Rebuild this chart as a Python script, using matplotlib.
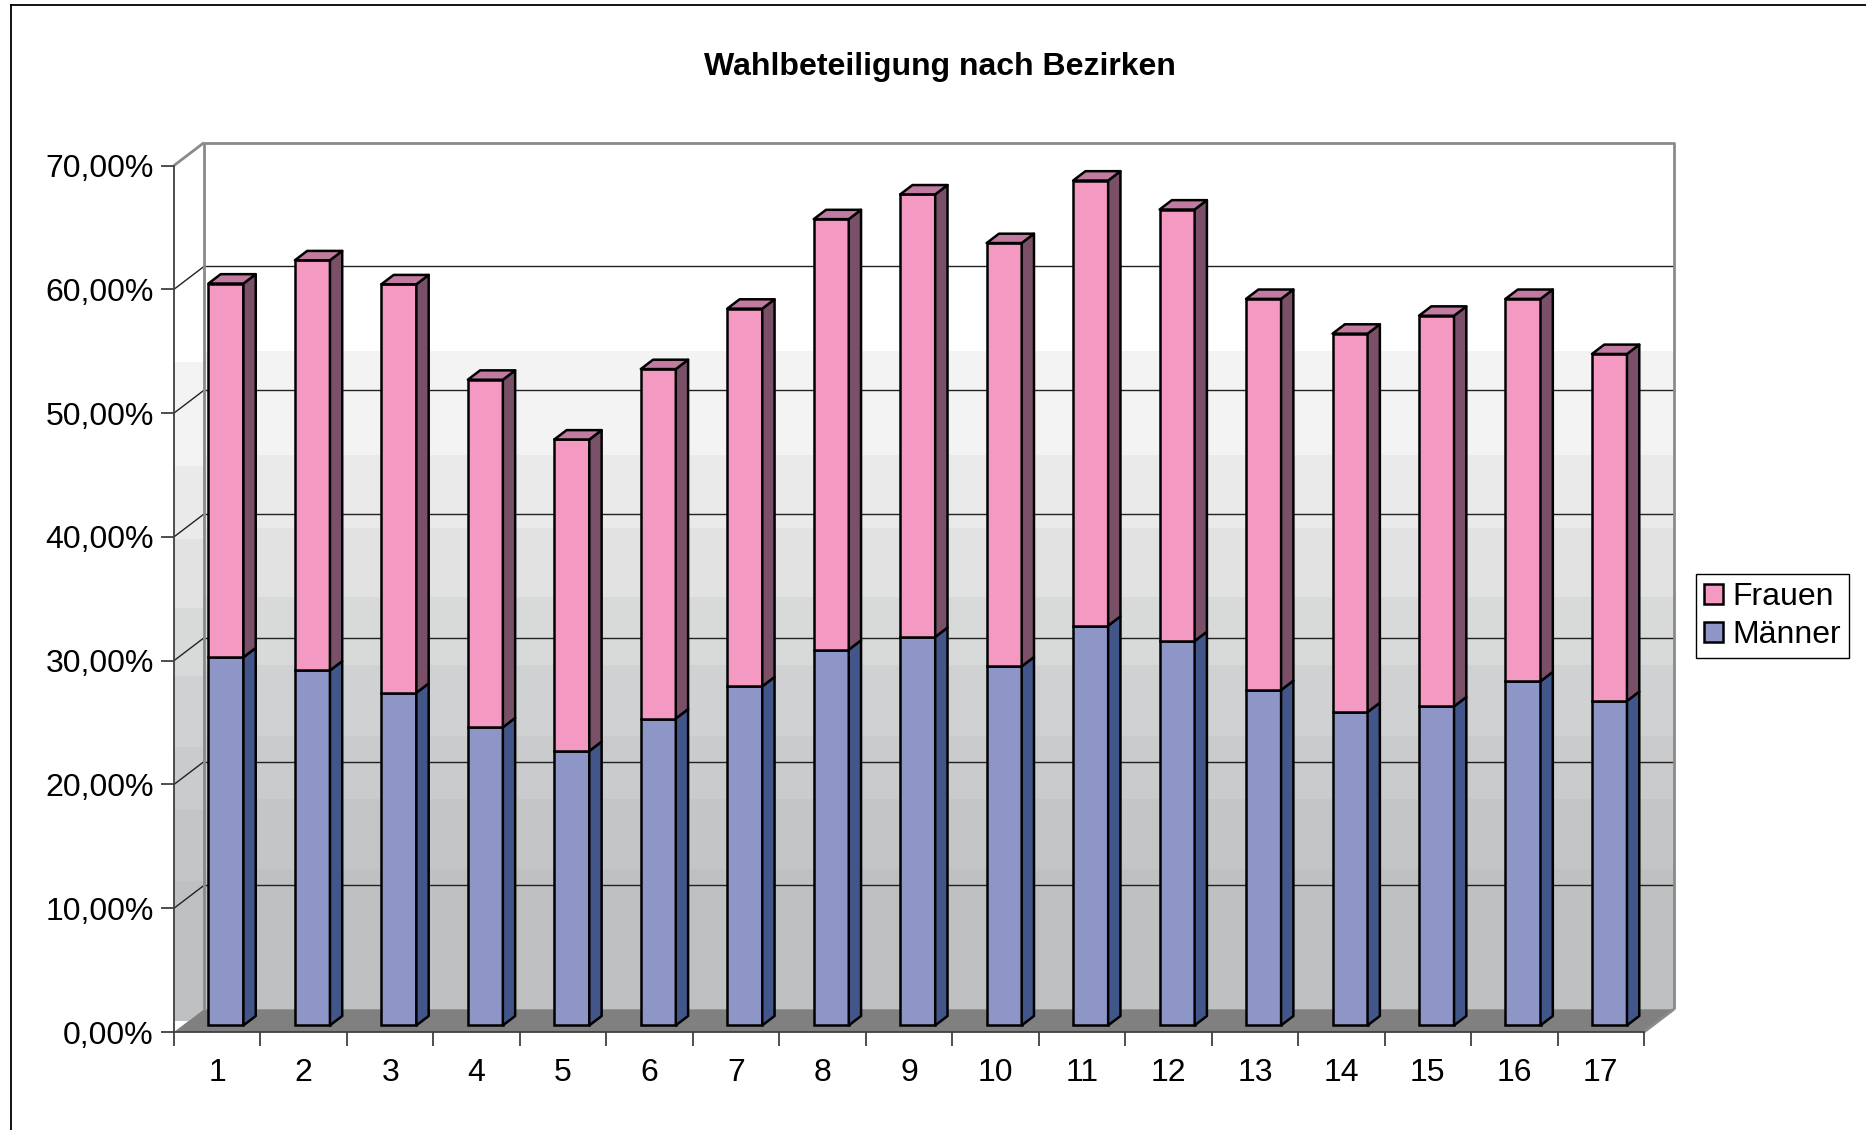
import numpy as np
import matplotlib
matplotlib.use("Agg")
import matplotlib.pyplot as plt
from matplotlib.patches import Polygon, Rectangle, Patch
from matplotlib.lines import Line2D

plt.rcParams['font.family'] = ['Liberation Sans', 'DejaVu Sans']

#%% Data (Wahlbeteiligung in %)
bezirke = [str(i) for i in range(1, 18)]
maenner = [29.74, 28.67, 26.87, 24.08, 22.17, 24.79, 27.39, 30.35, 31.38,
           29.00, 32.29, 31.05, 27.09, 25.31, 25.77, 27.80, 26.21]
frauen = [30.19, 33.14, 33.00, 28.08, 25.16, 28.23, 30.51, 34.78, 35.75,
          34.20, 35.96, 34.86, 31.60, 30.57, 31.56, 30.89, 28.03]
y_ticks = [0, 10, 20, 30, 40, 50, 60, 70]

#%% Style
FS = 23
DX, DY = 0.347, 1.845          # full depth offset of the 3d box (data units)
F0, F1 = 0.29, 0.70            # bar front/back depth fraction
BAR_W = 0.405
m_front, m_side = "#8e96c8", "#42568a"
f_front, f_side, f_top = "#f49ac2", "#7a5068", "#c27ba0"
wall_edge = "#8a8a8a"
band_edges = [0, 11.3, 17.0, 22.1, 27.8, 33.3, 38.9, 44.8, 53.2]
band_cols = ["#bfc0c1", "#c4c5c6", "#cacbcc", "#d0d1d2", "#d8d9d9",
             "#e1e2e1", "#eaeaea", "#f2f3f2"]

fig = plt.figure(figsize=(18.66, 11.30), dpi=100)
ax = fig.add_axes([174/1866, (1130-1032.0)/1130, 1470/1866, 866.5/1130])
ax.patch.set_visible(False)
n = len(bezirke)
ax.set_xlim(0, n)
ax.set_ylim(0, 70)

#%% Walls and floor
back = Rectangle((DX, DY), n, 70, fc="white", ec="none", zorder=0.1, clip_on=False)
ax.add_patch(back)
left = Polygon([(0, 0), (DX, DY), (DX, 70+DY), (0, 70)], closed=True,
               fc="white", ec="none", zorder=0.1, clip_on=False)
ax.add_patch(left)
for i, c in enumerate(band_cols):
    lo, hi = band_edges[i], band_edges[i+1]
    ax.add_patch(Rectangle((DX, DY+lo), n, hi-lo, fc=c, ec="none",
                           zorder=0.2, clip_on=False))
    r = Rectangle((0, DY*0.5+lo), DX, hi-lo, fc=c, ec="none", zorder=0.2)
    ax.add_patch(r)
    r.set_clip_path(left)

for v in y_ticks[1:-1]:
    ax.plot([DX, n+DX], [v+DY, v+DY], color="#222222", lw=1.0, zorder=0.5, clip_on=False)
    ax.plot([0, DX], [v, v+DY], color="#222222", lw=1.0, zorder=0.5, clip_on=False)

floor = Polygon([(0, 0), (n, 0), (n+DX, DY), (DX, DY)], closed=True,
                fc="#808080", ec="none", zorder=0.6, clip_on=False)
ax.add_patch(floor)

kw = dict(color=wall_edge, lw=2.0, zorder=0.7, clip_on=False, solid_capstyle="butt")
ax.plot([DX, DX, n+DX, n+DX], [DY, 70+DY, 70+DY, DY], **kw)
ax.plot([0, DX], [70, 70+DY], **kw)
ax.plot([n, n+DX], [0, DY], **kw)

#%% 3d stacked bars
xs = np.arange(n) + 0.5 - BAR_W/2 + F0*DX
ddx, ddy = (F1-F0)*DX, (F1-F0)*DY
y0 = F0*DY
bar_kw = dict(width=BAR_W, align="edge", edgecolor="black", linewidth=1.8, zorder=3)
ax.bar(xs, maenner, bottom=y0, color=m_front, **bar_kw)
tot = [m + f for m, f in zip(maenner, frauen)]
ax.bar(xs, frauen, bottom=[y0+m for m in maenner], color=f_front, **bar_kw)

for x, m, t in zip(xs, maenner, tot):
    xr = x + BAR_W
    for lo, hi, c in [(y0, y0+m, m_side), (y0+m, y0+t, f_side)]:
        ax.add_patch(Polygon([(xr, lo), (xr+ddx, lo+ddy), (xr+ddx, hi+ddy), (xr, hi)],
                             closed=True, fc=c, ec="black", lw=1.8, zorder=3,
                             joinstyle="round"))
    top = y0 + t
    ax.add_patch(Polygon([(x, top), (xr, top), (xr+ddx, top+ddy), (x+ddx, top+ddy)],
                         closed=True, fc=f_top, ec="black", lw=1.8, zorder=3,
                         joinstyle="round"))

#%% Axes, ticks
for s in ["top", "right"]:
    ax.spines[s].set_visible(False)
for s in ["left", "bottom"]:
    ax.spines[s].set_color("#404040")
    ax.spines[s].set_linewidth(1.3)

ax.set_yticks(y_ticks)
ax.set_yticklabels([f"{v:.2f}%".replace(".", ",") for v in y_ticks])
ax.tick_params(axis="y", length=9.5, width=1.3, color="#404040", pad=5, labelsize=FS)

ax.set_xticks(np.arange(n+1))
ax.set_xticklabels([])
ax.set_xticks(np.arange(n) + 0.5, minor=True)
ax.set_xticklabels(bezirke, minor=True)
ax.tick_params(axis="x", which="major", length=10, width=1.3, color="#404040")
ax.tick_params(axis="x", which="minor", length=0, pad=19, labelsize=FS)

#%% Title, legend, frame
fig.text(939.5/1866, 1-66.5/1130, "Wahlbeteiligung nach Bezirken", ha="center",
         va="center", fontsize=FS, fontweight="bold")

handles = [Patch(fc=f_front, ec="black", lw=1.8, label="Frauen"),
           Patch(fc=m_front, ec="black", lw=1.8, label="Männer")]
leg = ax.legend(handles=handles, loc="upper left", bbox_to_anchor=(1696/1866, 1-574/1130),
                bbox_transform=fig.transFigure, fancybox=False, edgecolor="black",
                framealpha=1, fontsize=FS, handlelength=0.6, handleheight=0.6,
                handletextpad=0.3, borderpad=0.25, labelspacing=0.25, borderaxespad=0)
leg.get_frame().set_linewidth(1.0)

fig.add_artist(Line2D([10.7/1866, 10.7/1866], [0, 1-4.7/1130], color="black", lw=1.3))
fig.add_artist(Line2D([10.7/1866, 1], [1-4.7/1130, 1-4.7/1130], color="black", lw=1.3))

fig.savefig("out.png", dpi=100)
